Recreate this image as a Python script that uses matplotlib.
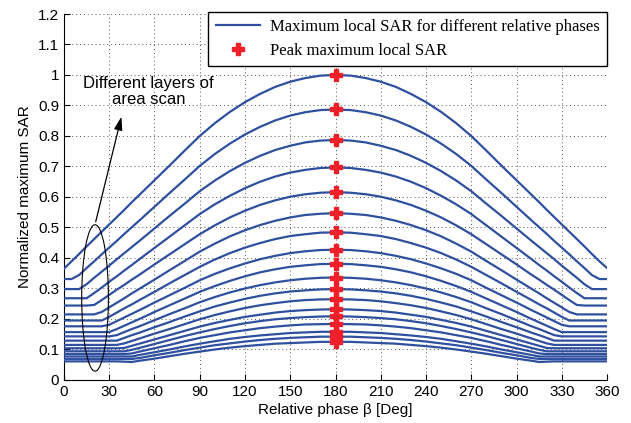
import matplotlib
matplotlib.use("Agg")
import matplotlib.pyplot as plt
from matplotlib.patches import Ellipse

# relative phase grid (deg)
phase = [0, 5, 10, 15, 20, 25, 30, 35, 40, 45, 50, 60, 70, 80, 90, 100, 110, 120, 130, 140, 150, 160, 170, 180,
         190, 200, 210, 220, 230, 240, 250, 260, 270, 280, 290, 300, 310, 315, 320, 325, 330, 335, 340, 345, 350, 355, 360]

# normalized max local SAR, one row per layer of the area scan
layers = [
    [0.365, 0.389, 0.413, 0.438, 0.462, 0.486, 0.510, 0.534, 0.558, 0.583, 0.607, 0.655, 0.703, 0.752, 0.800, 0.842, 0.879, 0.911, 0.938, 0.961, 0.978, 0.990, 0.998, 1.000,
     0.998, 0.990, 0.978, 0.961, 0.938, 0.911, 0.879, 0.842, 0.800, 0.752, 0.703, 0.655, 0.607, 0.583, 0.558, 0.534, 0.510, 0.486, 0.462, 0.438, 0.413, 0.389, 0.367],
    [0.331, 0.331, 0.344, 0.367, 0.389, 0.412, 0.434, 0.456, 0.479, 0.501, 0.523, 0.568, 0.613, 0.657, 0.702, 0.741, 0.775, 0.805, 0.830, 0.851, 0.867, 0.878, 0.885, 0.887,
     0.885, 0.878, 0.867, 0.851, 0.830, 0.805, 0.775, 0.741, 0.702, 0.657, 0.613, 0.568, 0.523, 0.501, 0.479, 0.456, 0.434, 0.412, 0.389, 0.367, 0.344, 0.331, 0.331],
    [0.298, 0.298, 0.298, 0.314, 0.335, 0.355, 0.375, 0.396, 0.416, 0.436, 0.456, 0.497, 0.538, 0.578, 0.619, 0.654, 0.685, 0.712, 0.735, 0.754, 0.768, 0.779, 0.785, 0.787,
     0.785, 0.779, 0.768, 0.754, 0.735, 0.712, 0.685, 0.654, 0.619, 0.578, 0.538, 0.497, 0.456, 0.436, 0.416, 0.396, 0.375, 0.355, 0.335, 0.314, 0.298, 0.298, 0.298],
    [0.268, 0.268, 0.268, 0.268, 0.285, 0.303, 0.322, 0.340, 0.359, 0.377, 0.396, 0.433, 0.470, 0.507, 0.544, 0.576, 0.604, 0.629, 0.650, 0.667, 0.680, 0.689, 0.695, 0.697,
     0.695, 0.689, 0.680, 0.667, 0.650, 0.629, 0.604, 0.576, 0.544, 0.507, 0.470, 0.433, 0.396, 0.377, 0.359, 0.340, 0.322, 0.303, 0.285, 0.268, 0.268, 0.268, 0.268],
    [0.244, 0.244, 0.244, 0.244, 0.246, 0.262, 0.279, 0.296, 0.312, 0.329, 0.345, 0.379, 0.412, 0.445, 0.478, 0.507, 0.533, 0.555, 0.574, 0.589, 0.601, 0.609, 0.614, 0.616,
     0.614, 0.609, 0.601, 0.589, 0.574, 0.555, 0.533, 0.507, 0.478, 0.445, 0.412, 0.379, 0.345, 0.329, 0.312, 0.296, 0.279, 0.262, 0.246, 0.244, 0.244, 0.244, 0.244],
    [0.215, 0.215, 0.215, 0.215, 0.215, 0.223, 0.238, 0.253, 0.268, 0.284, 0.299, 0.329, 0.360, 0.390, 0.421, 0.447, 0.471, 0.491, 0.508, 0.522, 0.533, 0.541, 0.545, 0.547,
     0.545, 0.541, 0.533, 0.522, 0.508, 0.491, 0.471, 0.447, 0.421, 0.390, 0.360, 0.329, 0.299, 0.284, 0.268, 0.253, 0.238, 0.223, 0.215, 0.215, 0.215, 0.215, 0.215],
    [0.195, 0.195, 0.195, 0.195, 0.195, 0.195, 0.207, 0.221, 0.235, 0.248, 0.262, 0.289, 0.317, 0.344, 0.371, 0.395, 0.416, 0.434, 0.449, 0.462, 0.472, 0.478, 0.483, 0.484,
     0.483, 0.478, 0.472, 0.462, 0.449, 0.434, 0.416, 0.395, 0.371, 0.344, 0.317, 0.289, 0.262, 0.248, 0.235, 0.221, 0.207, 0.195, 0.195, 0.195, 0.195, 0.195, 0.195],
    [0.176, 0.176, 0.176, 0.176, 0.176, 0.176, 0.181, 0.193, 0.205, 0.217, 0.229, 0.254, 0.278, 0.302, 0.327, 0.348, 0.366, 0.382, 0.396, 0.407, 0.416, 0.422, 0.426, 0.427,
     0.426, 0.422, 0.416, 0.407, 0.396, 0.382, 0.366, 0.348, 0.327, 0.302, 0.278, 0.254, 0.229, 0.217, 0.205, 0.193, 0.181, 0.176, 0.176, 0.176, 0.176, 0.176, 0.176],
    [0.157, 0.157, 0.157, 0.157, 0.157, 0.157, 0.157, 0.167, 0.178, 0.189, 0.200, 0.223, 0.245, 0.267, 0.289, 0.308, 0.325, 0.340, 0.353, 0.363, 0.371, 0.376, 0.380, 0.381,
     0.380, 0.376, 0.371, 0.363, 0.353, 0.340, 0.325, 0.308, 0.289, 0.267, 0.245, 0.223, 0.200, 0.189, 0.178, 0.167, 0.157, 0.157, 0.157, 0.157, 0.157, 0.157, 0.157],
    [0.143, 0.143, 0.143, 0.143, 0.143, 0.143, 0.143, 0.147, 0.157, 0.167, 0.176, 0.196, 0.216, 0.235, 0.255, 0.272, 0.287, 0.300, 0.311, 0.320, 0.327, 0.332, 0.335, 0.336,
     0.335, 0.332, 0.327, 0.320, 0.311, 0.300, 0.287, 0.272, 0.255, 0.235, 0.216, 0.196, 0.176, 0.167, 0.157, 0.147, 0.143, 0.143, 0.143, 0.143, 0.143, 0.143, 0.143],
    [0.129, 0.129, 0.129, 0.129, 0.129, 0.129, 0.129, 0.129, 0.138, 0.147, 0.155, 0.173, 0.190, 0.208, 0.225, 0.241, 0.254, 0.266, 0.276, 0.284, 0.290, 0.294, 0.297, 0.298,
     0.297, 0.294, 0.290, 0.284, 0.276, 0.266, 0.254, 0.241, 0.225, 0.208, 0.190, 0.173, 0.155, 0.147, 0.138, 0.129, 0.129, 0.129, 0.129, 0.129, 0.129, 0.129, 0.129],
    [0.115, 0.115, 0.115, 0.115, 0.115, 0.115, 0.115, 0.115, 0.120, 0.128, 0.136, 0.152, 0.167, 0.183, 0.199, 0.213, 0.225, 0.236, 0.245, 0.252, 0.258, 0.262, 0.264, 0.265,
     0.264, 0.262, 0.258, 0.252, 0.245, 0.236, 0.225, 0.213, 0.199, 0.183, 0.167, 0.152, 0.136, 0.128, 0.120, 0.115, 0.115, 0.115, 0.115, 0.115, 0.115, 0.115, 0.115],
    [0.104, 0.104, 0.104, 0.104, 0.104, 0.104, 0.104, 0.104, 0.105, 0.112, 0.119, 0.133, 0.147, 0.161, 0.175, 0.187, 0.197, 0.207, 0.214, 0.221, 0.226, 0.229, 0.231, 0.232,
     0.231, 0.229, 0.226, 0.221, 0.214, 0.207, 0.197, 0.187, 0.175, 0.161, 0.147, 0.133, 0.119, 0.112, 0.105, 0.104, 0.104, 0.104, 0.104, 0.104, 0.104, 0.104, 0.104],
    [0.094, 0.094, 0.094, 0.094, 0.094, 0.094, 0.094, 0.094, 0.094, 0.099, 0.105, 0.118, 0.131, 0.144, 0.156, 0.167, 0.177, 0.186, 0.193, 0.199, 0.203, 0.206, 0.208, 0.209,
     0.208, 0.206, 0.203, 0.199, 0.193, 0.186, 0.177, 0.167, 0.156, 0.144, 0.131, 0.118, 0.105, 0.099, 0.094, 0.094, 0.094, 0.094, 0.094, 0.094, 0.094, 0.094, 0.094],
    [0.085, 0.085, 0.085, 0.085, 0.085, 0.085, 0.085, 0.085, 0.085, 0.087, 0.093, 0.104, 0.115, 0.127, 0.138, 0.147, 0.156, 0.163, 0.170, 0.175, 0.179, 0.182, 0.183, 0.184,
     0.183, 0.182, 0.179, 0.175, 0.170, 0.163, 0.156, 0.147, 0.138, 0.127, 0.115, 0.104, 0.093, 0.087, 0.085, 0.085, 0.085, 0.085, 0.085, 0.085, 0.085, 0.085, 0.085],
    [0.077, 0.077, 0.077, 0.077, 0.077, 0.077, 0.077, 0.077, 0.077, 0.077, 0.082, 0.091, 0.100, 0.110, 0.119, 0.127, 0.135, 0.141, 0.146, 0.150, 0.154, 0.156, 0.158, 0.158,
     0.158, 0.156, 0.154, 0.150, 0.146, 0.141, 0.135, 0.127, 0.119, 0.110, 0.100, 0.091, 0.082, 0.077, 0.077, 0.077, 0.077, 0.077, 0.077, 0.077, 0.077, 0.077, 0.077],
    [0.069, 0.069, 0.069, 0.069, 0.069, 0.069, 0.069, 0.069, 0.069, 0.069, 0.072, 0.081, 0.089, 0.098, 0.106, 0.114, 0.120, 0.126, 0.131, 0.135, 0.138, 0.140, 0.142, 0.142,
     0.142, 0.140, 0.138, 0.135, 0.131, 0.126, 0.120, 0.114, 0.106, 0.098, 0.089, 0.081, 0.072, 0.069, 0.069, 0.069, 0.069, 0.069, 0.069, 0.069, 0.069, 0.069, 0.069],
    [0.061, 0.061, 0.061, 0.061, 0.061, 0.061, 0.061, 0.061, 0.060, 0.059, 0.063, 0.070, 0.078, 0.086, 0.093, 0.100, 0.106, 0.111, 0.115, 0.119, 0.121, 0.123, 0.125, 0.125,
     0.125, 0.123, 0.121, 0.119, 0.115, 0.111, 0.106, 0.100, 0.093, 0.086, 0.078, 0.070, 0.063, 0.059, 0.060, 0.061, 0.061, 0.061, 0.061, 0.061, 0.061, 0.061, 0.061],
]

peak_phase = 180
x_ticks = list(range(0, 361, 30))
y_ticks = [0, 0.1, 0.2, 0.3, 0.4, 0.5, 0.6, 0.7, 0.8, 0.9, 1, 1.1, 1.2]
y_ticklabels = ['0', '0.1', '0.2', '0.3', '0.4', '0.5', '0.6', '0.7', '0.8', '0.9', '1', '1.1', '1.2']

LINE_BLUE = '#2f4f9f'
PEAK_RED = '#f0202a'


def draw():
    plt.rcParams['font.family'] = ['Liberation Sans', 'DejaVu Sans']
    fig = plt.figure(figsize=(6.31, 4.23), dpi=100)
    ax = fig.add_axes([0.1014, 0.1017, 0.8606, 0.8652])

    for i, row in enumerate(layers):
        ax.plot(phase, row, color=LINE_BLUE, lw=1.6, solid_joinstyle='round',
                label="Maximum local SAR for different relative phases" if i == 0 else None, zorder=3)

    k = phase.index(peak_phase)
    peaks = [row[k] for row in layers]
    ax.plot([peak_phase] * len(peaks), peaks, linestyle='none', marker='P', ms=8,
            color=PEAK_RED, mec=PEAK_RED, label="Peak maximum local SAR", zorder=4)

    # ellipse + arrow pointing at the layers
    ax.add_patch(Ellipse((20.6, 0.269), 17.7, 0.48, fill=False, ec='black', lw=0.8, zorder=5))
    ax.annotate('', xy=(38.5, 0.872), xytext=(20.6, 0.51),
                arrowprops=dict(arrowstyle='-|>,head_length=0.8,head_width=0.25', color='black', lw=0.9))
    ax.text(56, 0.946, "Different layers of\narea scan", ha='center', va='center', fontsize=12,
            linespacing=1.15)

    ax.set_xlim(0, 360)
    ax.set_ylim(0, 1.2)
    ax.set_xticks(x_ticks)
    ax.set_yticks(y_ticks)
    ax.set_yticklabels(y_ticklabels)
    ax.tick_params(direction='in', length=4, labelsize=11, width=0.8)
    ax.grid(True, linestyle=(0, (1, 3)), color='#555555', lw=0.7)
    ax.spines['top'].set_visible(False)
    ax.spines['right'].set_visible(False)
    ax.set_xlabel("Relative phase β [Deg]", fontsize=11, labelpad=3)
    ax.set_ylabel("Normalized maximum SAR", fontsize=11, labelpad=4)

    leg = ax.legend(loc='upper right', bbox_to_anchor=(1.0, 1.006), borderaxespad=0,
                    prop={'family': 'Liberation Serif', 'size': 12}, fancybox=False,
                    edgecolor='black', framealpha=1, handlelength=2.65, handletextpad=0.6,
                    borderpad=0.45, labelspacing=0.45)
    leg.get_frame().set_linewidth(1.0)

    fig.savefig("out.png", dpi=100)


if __name__ == '__main__':
    draw()
